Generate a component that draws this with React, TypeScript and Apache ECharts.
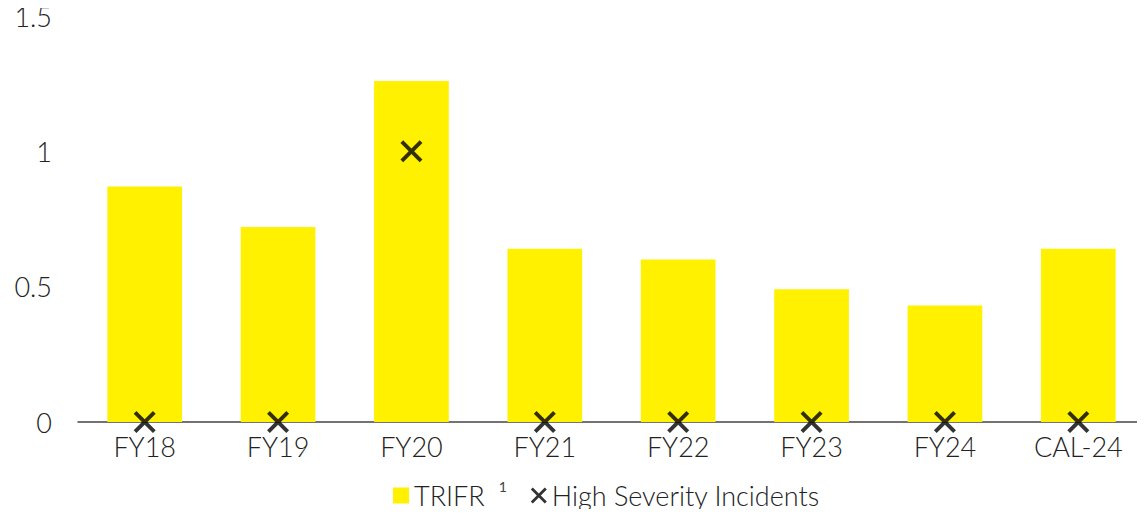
import React, { useEffect, useRef } from "react";
import * as echarts from "echarts";

const categories = ["FY18", "FY19", "FY20", "FY21", "FY22", "FY23", "FY24", "CAL-24"];
const trifr = [0.87, 0.72, 1.26, 0.64, 0.6, 0.49, 0.43, 0.64];
const highSeverity = [0, 0, 1, 0, 0, 0, 0, 0];
const yTicks = [0, 0.5, 1, 1.5];

const CROSS =
  "path://M2.5,0 L10,7.5 L17.5,0 L20,2.5 L12.5,10 L20,17.5 L17.5,20 L10,12.5 L2.5,20 L0,17.5 L7.5,10 L0,2.5 Z";

const FONT = "Lato, 'Open Sans', sans-serif";

export default function App() {
  const ref = useRef<HTMLDivElement>(null);
  useEffect(() => {
    if (!ref.current) return;
    const chart = echarts.init(ref.current, null, { renderer: "svg" });
    chart.setOption({
      animation: false,
      textStyle: { fontFamily: FONT },
      grid: { left: 78, right: 0, top: 16, bottom: 95, containLabel: false },
      xAxis: {
        type: "category",
        data: categories,
        axisLine: { lineStyle: { color: "#444", width: 1.5 } },
        axisTick: { show: false },
        axisLabel: { color: "#222", fontSize: 27, fontWeight: 300, margin: 11, fontFamily: FONT },
      },
      yAxis: {
        type: "value",
        min: 0,
        max: yTicks[yTicks.length - 1],
        interval: 0.5,
        splitLine: { show: false },
        axisLine: { show: false },
        axisTick: { show: false },
        axisLabel: { color: "#222", fontSize: 27, fontWeight: 300, margin: 26, fontFamily: FONT },
      },
      legend: {
        bottom: 3,
        left: 388,
        itemGap: 24,
        itemWidth: 16,
        itemHeight: 16,
        textStyle: {
          color: "#222",
          fontSize: 27,
          fontWeight: 300,
          fontFamily: FONT,
          rich: {
            sup: { fontSize: 14, fontWeight: 400, verticalAlign: "top", padding: [0, 0, 18, 14], color: "#444" },
          },
        },
        formatter: (name: string) => (name === "TRIFR" ? "TRIFR{sup|1}" : name),
        data: [
          { name: "TRIFR", icon: "rect" },
          { name: "High Severity Incidents", icon: CROSS },
        ],
      },
      series: [
        {
          name: "TRIFR",
          type: "bar",
          data: trifr,
          barWidth: "56%",
          itemStyle: { color: "#FFF100" },
        },
        {
          name: "High Severity Incidents",
          type: "scatter",
          data: highSeverity,
          symbol: CROSS,
          symbolSize: 22,
          itemStyle: { color: "#000" },
          z: 5,
        },
      ],
    });
    return () => chart.dispose();
  }, []);
  return <div ref={ref} style={{ width: 1145, height: 517, margin: -8 }} />;
}
